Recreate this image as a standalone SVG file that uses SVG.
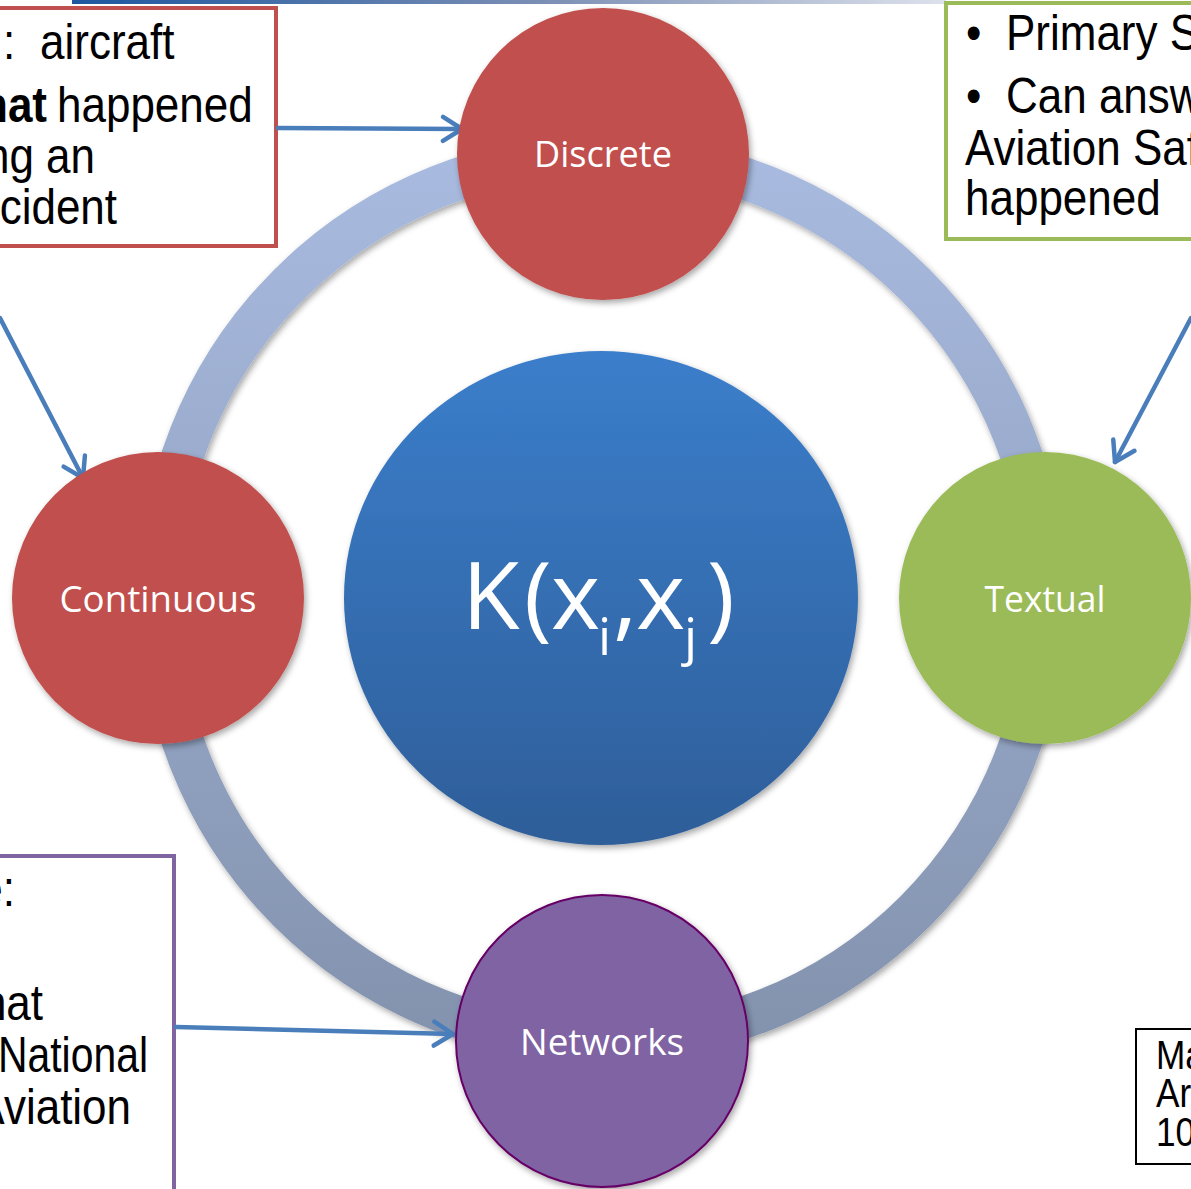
<svg xmlns="http://www.w3.org/2000/svg" width="1191" height="1189" viewBox="0 0 1191 1189">
  <defs>
    <linearGradient id="topBar" x1="0" y1="0" x2="1" y2="0">
      <stop offset="0" stop-color="#1c579f"/>
      <stop offset="0.55" stop-color="#7d90b5"/>
      <stop offset="1" stop-color="#dde2ec"/>
    </linearGradient>
    <linearGradient id="ringGrad" gradientUnits="userSpaceOnUse" x1="0" y1="155" x2="0" y2="1041">
      <stop offset="0" stop-color="#a8badf"/>
      <stop offset="1" stop-color="#8393ae"/>
    </linearGradient>
    <linearGradient id="hubGrad" x1="0" y1="0" x2="0" y2="1">
      <stop offset="0" stop-color="#3b7ecb"/>
      <stop offset="1" stop-color="#2e5e99"/>
    </linearGradient>
    <filter id="shadow" x="-10%" y="-10%" width="125%" height="125%">
      <feDropShadow dx="2" dy="3" stdDeviation="3" flood-color="#000" flood-opacity="0.35"/>
    </filter>
    <marker id="chev" viewBox="-24 -15 28 30" refX="0" refY="0" markerWidth="28" markerHeight="30" markerUnits="userSpaceOnUse" orient="auto">
      <path d="M -19 -12 L 0 0 L -19 12" fill="none" stroke="#4a7ebb" stroke-width="4.5" stroke-linecap="round" stroke-linejoin="round"/>
    </marker>
    <style>
      .label { font-family: "Open Sans", "Noto Sans", sans-serif; font-size: 36px; fill: #ffffff; text-anchor: middle; }
      .note { font-family: "Liberation Sans", Arial, sans-serif; font-size: 50px; fill: #000000; }
      .small { font-family: "Liberation Sans", Arial, sans-serif; font-size: 40px; fill: #000000; }
      .box { fill: #ffffff; stroke-width: 4; }
      .conn { fill: none; stroke: #4a7ebb; stroke-width: 4.5; stroke-linecap: round; marker-end: url(#chev); }
    </style>
  </defs>

  <rect width="1191" height="1189" fill="#ffffff"/>

  <!-- title underline bar -->
  <rect x="72" y="0" width="874" height="4" fill="url(#topBar)"/>

  <!-- outer ring joining the four data types -->
  <g id="ring">
    <circle cx="602" cy="598" r="443" fill="none" stroke="url(#ringGrad)" stroke-width="42" filter="url(#shadow)"/>
  </g>

  <!-- callout boxes; note text is set in a narrowed face (x scaled by 0.88) -->
  <g id="note-discrete">
    <rect class="box" x="-10" y="8" width="286" height="238" stroke="#c0504d"/>
    <g transform="scale(0.88 1)">
      <text class="note" x="3.4" y="59">:</text>
      <text class="note" x="45.5" y="59">aircraft</text>
      <text class="note" x="53.4" y="122" text-anchor="end" font-weight="bold">hat</text>
      <text class="note" x="64.8" y="122">happened</text>
      <text class="note" x="108" y="173" text-anchor="end">ng an</text>
      <text class="note" x="133" y="224" text-anchor="end">cident</text>
    </g>
  </g>

  <g id="note-textual">
    <rect class="box" x="946" y="3" width="260" height="236" stroke="#9bbb59"/>
    <g transform="scale(0.88 1)">
      <text class="note" x="1097.7" y="50">•</text>
      <text class="note" x="1143.2" y="50">Primary S</text>
      <text class="note" x="1097.7" y="113">•</text>
      <text class="note" x="1143.2" y="113">Can answ</text>
      <text class="note" x="1096.6" y="165">Aviation Saf</text>
      <text class="note" x="1096.6" y="215">happened</text>
    </g>
  </g>

  <g id="note-networks">
    <rect class="box" x="-10" y="856" width="184" height="350" stroke="#8064a2"/>
    <g transform="scale(0.88 1)">
      <text class="note" x="17" y="906" text-anchor="end">e:</text>
      <text class="note" x="48.9" y="1020" text-anchor="end">hat</text>
      <text class="note" x="-2.3" y="1072" textLength="170.5" lengthAdjust="spacingAndGlyphs">National</text>
      <text class="note" x="148.9" y="1124" text-anchor="end">Aviation</text>
    </g>
  </g>

  <g id="note-corner">
    <rect x="1136" y="1029" width="80" height="135" fill="#ffffff" stroke="#000000" stroke-width="2"/>
    <g transform="scale(0.88 1)">
      <text class="small" x="1313.6" y="1069">Ma</text>
      <text class="small" x="1313.6" y="1107">Arc</text>
      <text class="small" x="1313.6" y="1146">10</text>
    </g>
  </g>

  <!-- connectors from callouts to the data-type nodes -->
  <g id="connectors">
    <path class="conn" d="M 278 128 L 462 129"/>
    <path class="conn" d="M 0 318 L 83 478"/>
    <path class="conn" d="M 1191 318 L 1115 462"/>
    <path class="conn" d="M 176 1027 L 453 1034"/>
  </g>

  <!-- kernel hub -->
  <g id="hub">
    <ellipse cx="601" cy="598" rx="257" ry="247" fill="url(#hubGrad)" filter="url(#shadow)"/>
    <text font-family="'Open Sans', 'Noto Sans', sans-serif" fill="#ffffff" font-size="94">
      <tspan x="462" y="629">K</tspan><tspan x="524" y="629">(</tspan><tspan x="551" y="629">x</tspan><tspan x="598" y="655" font-size="52">i</tspan><tspan x="613" y="629">,</tspan><tspan x="636" y="629">x</tspan><tspan x="684" y="655" font-size="52">j</tspan><tspan x="707" y="629">)</tspan>
    </text>
  </g>

  <!-- data-type nodes -->
  <g id="node-discrete">
    <circle cx="603" cy="154" r="146" fill="#c0504d" filter="url(#shadow)"/>
    <text class="label" x="603" y="167" textLength="138" lengthAdjust="spacingAndGlyphs">Discrete</text>
  </g>
  <g id="node-continuous">
    <circle cx="158" cy="598" r="146" fill="#c0504d" filter="url(#shadow)"/>
    <text class="label" x="158" y="612" textLength="197" lengthAdjust="spacingAndGlyphs">Continuous</text>
  </g>
  <g id="node-textual">
    <circle cx="1045" cy="598" r="146" fill="#9bbb59" filter="url(#shadow)"/>
    <text class="label" x="1045" y="612" textLength="121" lengthAdjust="spacingAndGlyphs">Textual</text>
  </g>
  <g id="node-networks">
    <circle cx="602" cy="1041" r="146" fill="#8064a2" stroke="#660066" stroke-width="2" filter="url(#shadow)"/>
    <text class="label" x="602" y="1055" textLength="164" lengthAdjust="spacingAndGlyphs">Networks</text>
  </g>
</svg>
